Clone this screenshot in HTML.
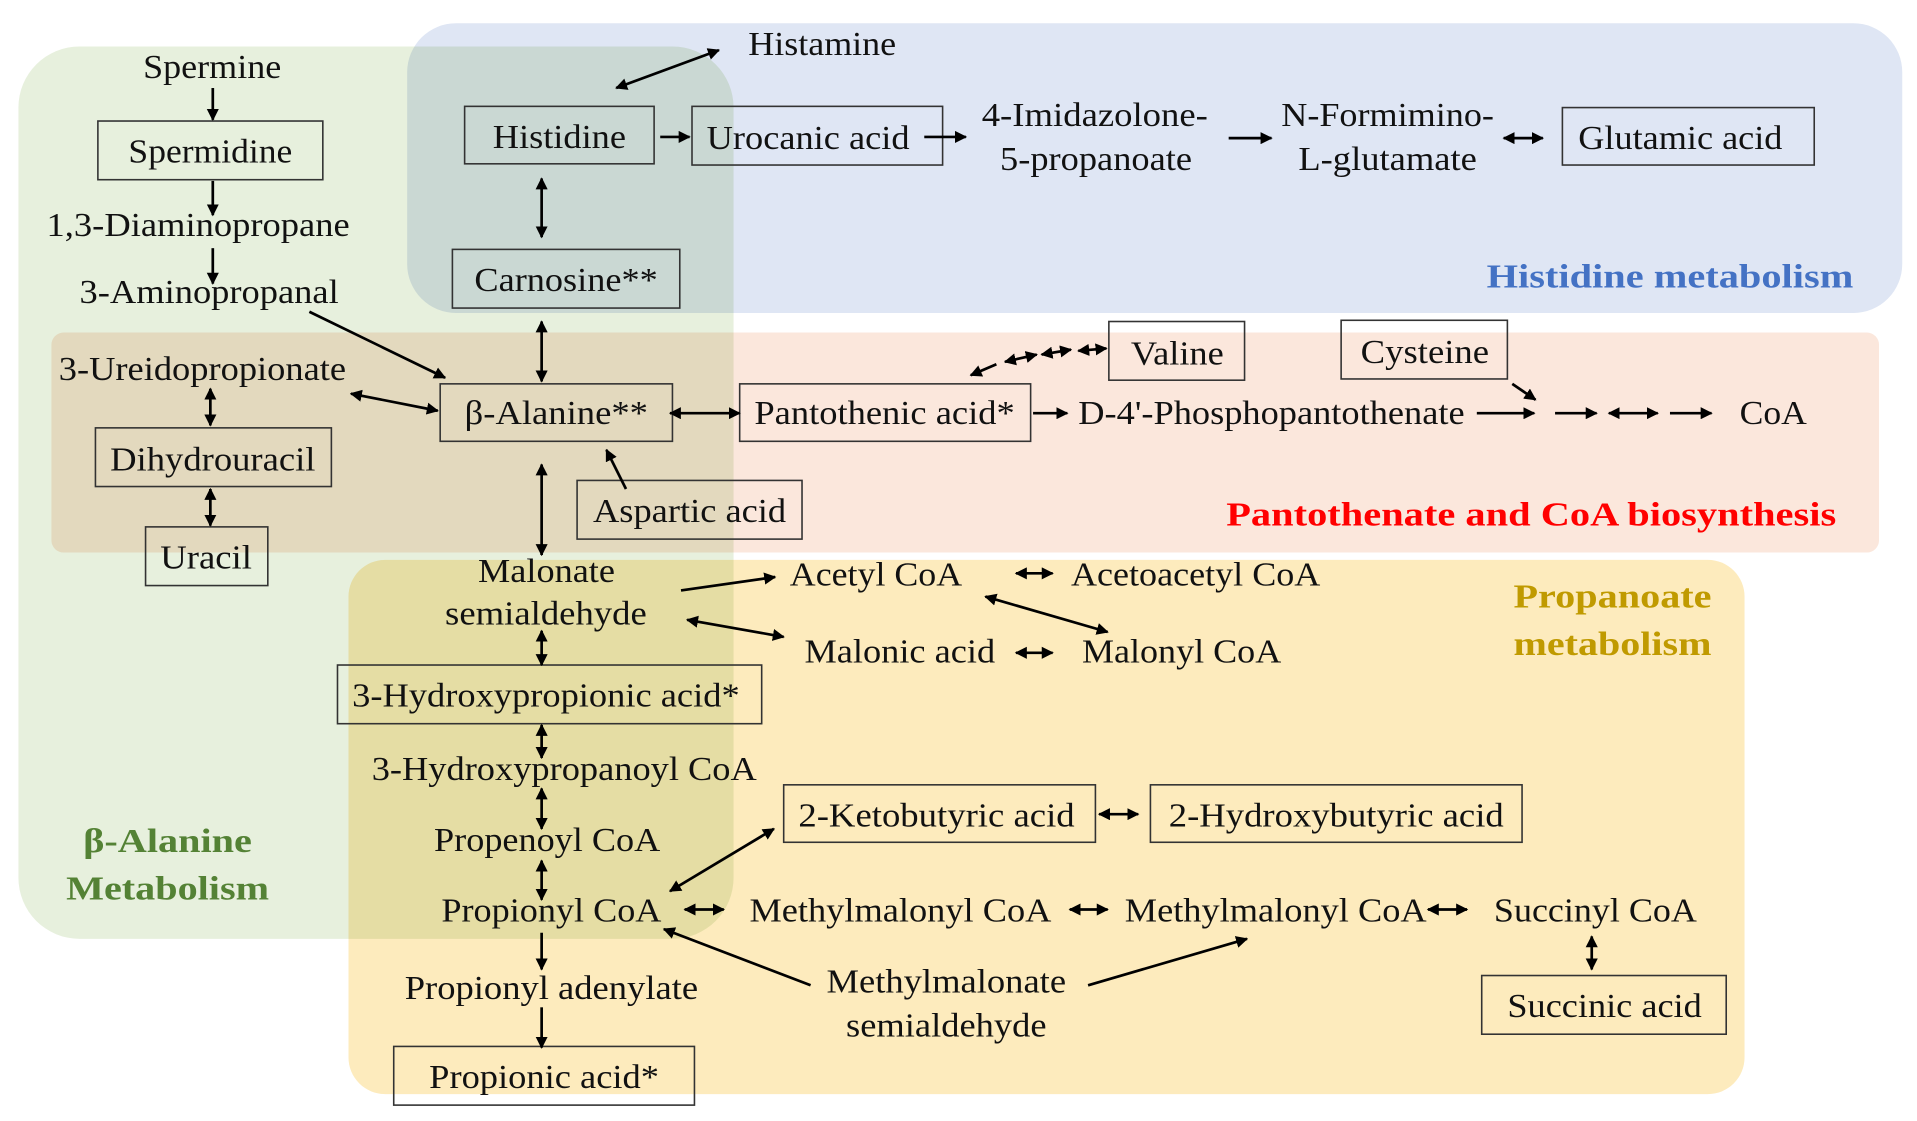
<!DOCTYPE html>
<html><head><meta charset="utf-8"><style>
html,body{margin:0;padding:0;background:#fff;}
svg{display:block;}
text{font-family:"Liberation Serif",serif;font-size:28px;fill:#111;}
.b{font-weight:bold;}
rect.n{fill:none;stroke:#333;stroke-width:1.3;}
line{stroke:#000;stroke-width:2.2;}
.rg{mix-blend-mode:multiply;}
</style></head><body>
<svg width="1917" height="1121" viewBox="0 0 1568 917" xmlns="http://www.w3.org/2000/svg">
<defs>
<marker id="a" viewBox="0 0 10 10" refX="9" refY="5" markerWidth="4.5" markerHeight="4.5" orient="auto-start-reverse"><path d="M0,0L10,5L0,10z" fill="#000"/></marker>
</defs>
<g style="isolation:isolate">
<rect class="rg" x="15" y="38" width="585" height="730" rx="50" fill="#e7f0dd"/>
<rect class="rg" x="333" y="19" width="1223" height="237" rx="40" fill="#dfe6f4"/>
<rect class="rg" x="42" y="272" width="1495" height="180" rx="10" fill="#fbe7dc"/>
<rect class="rg" x="285" y="458" width="1142" height="437" rx="30" fill="#fdebbd"/>
</g>
<!-- boxes -->
<rect class="n" x="80" y="99" width="184" height="48"/>
<rect class="n" x="78" y="350" width="193" height="48"/>
<rect class="n" x="119" y="431" width="100" height="48"/>
<rect class="n" x="380" y="87" width="155" height="47"/>
<rect class="n" x="566" y="87" width="205" height="48"/>
<rect class="n" x="1278" y="88" width="206" height="47"/>
<rect class="n" x="370" y="204" width="186" height="48"/>
<rect class="n" x="907" y="263" width="111" height="48"/>
<rect class="n" x="1097" y="262" width="136" height="48"/>
<rect class="n" x="360" y="314" width="190" height="47"/>
<rect class="n" x="605" y="314" width="238" height="47"/>
<rect class="n" x="472" y="393" width="184" height="48"/>
<rect class="n" x="276" y="544" width="347" height="48"/>
<rect class="n" x="322" y="856" width="246" height="48"/>
<rect class="n" x="641" y="642" width="255" height="47"/>
<rect class="n" x="941" y="642" width="304" height="47"/>
<rect class="n" x="1212" y="798" width="200" height="48"/>
<!-- text -->
<g lengthAdjust="spacingAndGlyphs">
<text x="117" y="64" textLength="113" lengthAdjust="spacingAndGlyphs">Spermine</text>
<text x="105" y="133" textLength="134" lengthAdjust="spacingAndGlyphs">Spermidine</text>
<text x="38" y="193" textLength="248" lengthAdjust="spacingAndGlyphs">1,3-Diaminopropane</text>
<text x="65" y="248" textLength="212" lengthAdjust="spacingAndGlyphs">3-Aminopropanal</text>
<text x="48" y="311" textLength="235" lengthAdjust="spacingAndGlyphs">3-Ureidopropionate</text>
<text x="90" y="385" textLength="168" lengthAdjust="spacingAndGlyphs">Dihydrouracil</text>
<text x="131" y="465" textLength="75" lengthAdjust="spacingAndGlyphs">Uracil</text>
<text x="403" y="121" textLength="109" lengthAdjust="spacingAndGlyphs">Histidine</text>
<text x="578" y="122" textLength="166" lengthAdjust="spacingAndGlyphs">Urocanic acid</text>
<text x="803" y="103" textLength="185" lengthAdjust="spacingAndGlyphs">4-Imidazolone-</text>
<text x="818" y="139" textLength="157" lengthAdjust="spacingAndGlyphs">5-propanoate</text>
<text x="1048" y="103" textLength="174" lengthAdjust="spacingAndGlyphs">N-Formimino-</text>
<text x="1062" y="139" textLength="146" lengthAdjust="spacingAndGlyphs">L-glutamate</text>
<text x="1291" y="122" textLength="167" lengthAdjust="spacingAndGlyphs">Glutamic acid</text>
<text x="612" y="45" textLength="121" lengthAdjust="spacingAndGlyphs">Histamine</text>
<text x="388" y="238" textLength="150" lengthAdjust="spacingAndGlyphs">Carnosine**</text>
<text class="b" x="1216" y="235" textLength="300" lengthAdjust="spacingAndGlyphs" style="fill:#4472c4">Histidine metabolism</text>
<text x="925" y="298" textLength="76" lengthAdjust="spacingAndGlyphs">Valine</text>
<text x="1113" y="297" textLength="105" lengthAdjust="spacingAndGlyphs">Cysteine</text>
<text x="380" y="347" textLength="150" lengthAdjust="spacingAndGlyphs">β-Alanine**</text>
<text x="617" y="347" textLength="213" lengthAdjust="spacingAndGlyphs">Pantothenic acid*</text>
<text x="882" y="347" textLength="316" lengthAdjust="spacingAndGlyphs">D-4'-Phosphopantothenate</text>
<text x="1423" y="347" textLength="55" lengthAdjust="spacingAndGlyphs">CoA</text>
<text x="485" y="427" textLength="158" lengthAdjust="spacingAndGlyphs">Aspartic acid</text>
<text class="b" x="1003" y="430" textLength="499" lengthAdjust="spacingAndGlyphs" style="fill:#ff0000">Pantothenate and CoA biosynthesis</text>
<text x="391" y="476" textLength="112" lengthAdjust="spacingAndGlyphs">Malonate</text>
<text x="364" y="511" textLength="165" lengthAdjust="spacingAndGlyphs">semialdehyde</text>
<text x="646" y="479" textLength="141" lengthAdjust="spacingAndGlyphs">Acetyl CoA</text>
<text x="876" y="479" textLength="204" lengthAdjust="spacingAndGlyphs">Acetoacetyl CoA</text>
<text x="658" y="542" textLength="156" lengthAdjust="spacingAndGlyphs">Malonic acid</text>
<text x="885" y="542" textLength="163" lengthAdjust="spacingAndGlyphs">Malonyl CoA</text>
<text class="b" x="1238" y="497" textLength="162" lengthAdjust="spacingAndGlyphs" style="fill:#c09a00">Propanoate</text>
<text class="b" x="1238" y="536" textLength="162" lengthAdjust="spacingAndGlyphs" style="fill:#c09a00">metabolism</text>
<text x="288" y="578" textLength="317" lengthAdjust="spacingAndGlyphs">3-Hydroxypropionic acid*</text>
<text x="304" y="638" textLength="315" lengthAdjust="spacingAndGlyphs">3-Hydroxypropanoyl CoA</text>
<text x="355" y="696" textLength="185" lengthAdjust="spacingAndGlyphs">Propenoyl CoA</text>
<text x="361" y="754" textLength="180" lengthAdjust="spacingAndGlyphs">Propionyl CoA</text>
<text x="331" y="817" textLength="240" lengthAdjust="spacingAndGlyphs">Propionyl adenylate</text>
<text x="351" y="890" textLength="188" lengthAdjust="spacingAndGlyphs">Propionic acid*</text>
<text x="653" y="676" textLength="226" lengthAdjust="spacingAndGlyphs">2-Ketobutyric acid</text>
<text x="956" y="676" textLength="274" lengthAdjust="spacingAndGlyphs">2-Hydroxybutyric acid</text>
<text x="613" y="754" textLength="247" lengthAdjust="spacingAndGlyphs">Methylmalonyl CoA</text>
<text x="920" y="754" textLength="247" lengthAdjust="spacingAndGlyphs">Methylmalonyl CoA</text>
<text x="1222" y="754" textLength="166" lengthAdjust="spacingAndGlyphs">Succinyl CoA</text>
<text x="1233" y="832" textLength="159" lengthAdjust="spacingAndGlyphs">Succinic acid</text>
<text x="676" y="812" textLength="196" lengthAdjust="spacingAndGlyphs">Methylmalonate</text>
<text x="692" y="848" textLength="164" lengthAdjust="spacingAndGlyphs">semialdehyde</text>
<text class="b" x="68" y="697" textLength="138" lengthAdjust="spacingAndGlyphs" style="fill:#548235">β-Alanine</text>
<text class="b" x="54" y="736" textLength="166" lengthAdjust="spacingAndGlyphs" style="fill:#548235">Metabolism</text>
</g>
<!-- single arrows -->
<g marker-end="url(#a)">
<line x1="174" y1="72" x2="174" y2="98"/>
<line x1="174" y1="148" x2="174" y2="176"/>
<line x1="174" y1="203" x2="174" y2="232"/>
<line x1="253" y1="255" x2="364" y2="309"/>
<line x1="540" y1="112" x2="564" y2="112"/>
<line x1="756" y1="112" x2="790" y2="112"/>
<line x1="1005" y1="113" x2="1040" y2="113"/>
<line x1="512" y1="400" x2="496" y2="368"/>
<line x1="845" y1="338" x2="873" y2="338"/>
<line x1="815" y1="298" x2="794" y2="307"/>
<line x1="1208" y1="338" x2="1255" y2="338"/>
<line x1="1272" y1="338" x2="1306" y2="338"/>
<line x1="1366" y1="338" x2="1400" y2="338"/>
<line x1="1237" y1="314" x2="1256" y2="327"/>
<line x1="557" y1="483" x2="634" y2="472"/>
<line x1="443" y1="763" x2="443" y2="793"/>
<line x1="443" y1="824" x2="443" y2="857"/>
<line x1="663" y1="806" x2="543" y2="760"/>
<line x1="890" y1="806" x2="1020" y2="768"/>
</g>
<!-- double arrows -->
<g marker-end="url(#a)" marker-start="url(#a)">
<line x1="504" y1="72" x2="588" y2="41"/>
<line x1="1230" y1="113" x2="1262" y2="113"/>
<line x1="443" y1="146" x2="443" y2="194"/>
<line x1="443" y1="263" x2="443" y2="312"/>
<line x1="287" y1="322" x2="358" y2="336"/>
<line x1="172" y1="318" x2="172" y2="348"/>
<line x1="172" y1="400" x2="172" y2="430"/>
<line x1="548" y1="338" x2="605" y2="338"/>
<line x1="443" y1="380" x2="443" y2="454"/>
<line x1="822" y1="296" x2="848" y2="290"/>
<line x1="852" y1="290" x2="876" y2="286"/>
<line x1="882" y1="287" x2="905" y2="285"/>
<line x1="1316" y1="338" x2="1356" y2="338"/>
<line x1="562" y1="507" x2="641" y2="521"/>
<line x1="831" y1="469" x2="861" y2="469"/>
<line x1="806" y1="488" x2="906" y2="517"/>
<line x1="831" y1="534" x2="861" y2="534"/>
<line x1="443" y1="516" x2="443" y2="544"/>
<line x1="443" y1="593" x2="443" y2="620"/>
<line x1="443" y1="645" x2="443" y2="678"/>
<line x1="443" y1="704" x2="443" y2="736"/>
<line x1="548" y1="729" x2="633" y2="678"/>
<line x1="560" y1="744" x2="592" y2="744"/>
<line x1="875" y1="744" x2="906" y2="744"/>
<line x1="1168" y1="744" x2="1200" y2="744"/>
<line x1="1302" y1="766" x2="1302" y2="793"/>
<line x1="899" y1="666" x2="931" y2="666"/>
</g>
</svg>
</body></html>
